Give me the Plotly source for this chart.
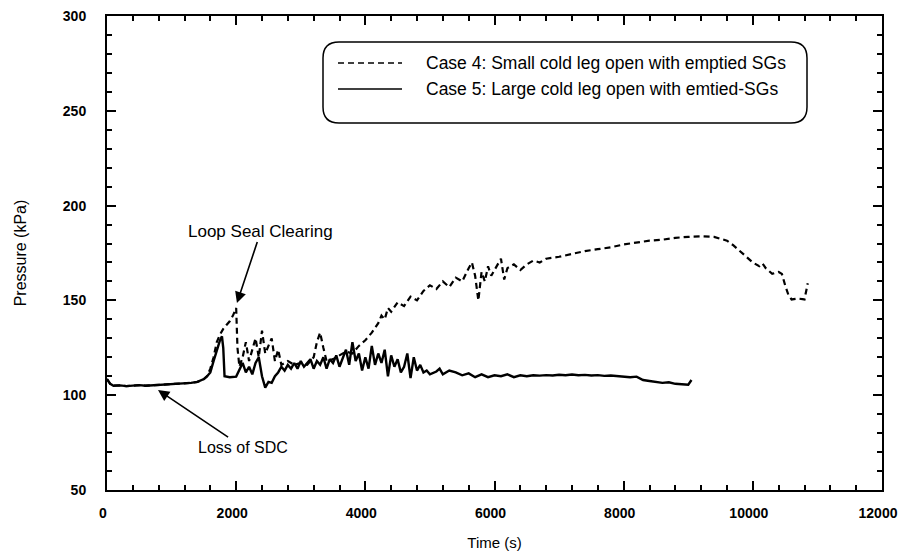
import plotly.graph_objects as go

# ---- data ----
t_case5 = [0, 50, 100, 200, 300, 400, 500, 600, 700, 800, 900, 1000, 1100, 1200, 1300, 1400,
           1500, 1550, 1600, 1650, 1700, 1750, 1780, 1800, 1820, 1900, 2000, 2050, 2100, 2150,
           2200, 2250, 2300, 2350, 2400, 2450, 2500, 2550, 2600, 2650, 2700, 2750, 2800, 2850,
           2900, 2950, 3000, 3050, 3100, 3150, 3200, 3250, 3300, 3350, 3400, 3450, 3500, 3550,
           3600, 3650, 3700, 3750, 3800, 3850, 3900, 3950, 4000, 4050, 4100, 4150, 4200, 4250,
           4300, 4350, 4400, 4450, 4500, 4550, 4600, 4650, 4700, 4750, 4800, 4850, 4900, 4950,
           5000, 5100, 5150, 5200, 5300, 5400, 5500, 5600, 5700, 5800, 5900, 6000, 6100, 6200,
           6300, 6400, 6500, 6600, 6700, 6800, 6900, 7000, 7100, 7200, 7300, 7400, 7500, 7600,
           7700, 7800, 7900, 8000, 8100, 8200, 8300, 8400, 8500, 8600, 8700, 8800, 8900, 9000, 9050]
p_case5 = [108.5, 106, 105, 105.2, 104.8, 105, 105.3, 105, 105.2, 105.1, 105.3, 105.5, 106, 106.3, 106.5, 107,
           108.5, 110, 112, 118, 124, 129, 131, 125, 110, 109.5, 109.8, 113, 117, 112,
           115, 111, 117, 120, 110, 104, 107, 106.5, 110, 112, 115, 113, 116, 114,
           117, 114, 118, 115, 117, 119, 114, 118, 116, 120, 114, 119, 117, 121,
           115, 119, 124, 116, 128, 118, 122, 113, 120, 114, 126, 116, 122, 117,
           124, 110, 121, 115, 119, 112, 115, 122, 109, 120, 113, 116, 112, 113,
           111, 112.5, 114, 111, 113, 112, 110.5, 111.5, 109.5, 111, 109.5, 110.5, 110, 111,
           109.5, 110.5, 110, 110.5, 110.3, 110.6, 110.4, 110.8, 110.5, 110.9, 110.5, 110.7, 110.4, 110.6,
           110.2, 110.4, 110, 109.8, 109.5, 109.8, 108, 107.5, 107, 106.5, 106.8, 106, 105.8, 105.5, 108]

t_case4 = [0, 50, 100, 200, 300, 400, 500, 600, 700, 800, 900, 1000, 1100, 1200, 1300, 1400,
           1500, 1550, 1600, 1650, 1700, 1750, 1800, 1850, 1900, 1950, 2000, 2020, 2050, 2100,
           2150, 2200, 2250, 2300, 2350, 2400, 2450, 2500, 2550, 2600, 2650, 2700, 2750, 2800,
           2900, 3000, 3100, 3200, 3250, 3300, 3350, 3400, 3500, 3600, 3700, 3800, 3900, 4000,
           4100, 4200, 4250, 4300, 4350, 4400, 4500, 4600, 4700, 4800, 4900, 5000, 5100, 5200,
           5300, 5400, 5500, 5600, 5650, 5700, 5750, 5800, 5850, 5900, 5950, 6000, 6100, 6150,
           6200, 6300, 6400, 6500, 6600, 6700, 6800, 7000, 7200, 7400, 7600, 7800, 8000, 8200,
           8400, 8600, 8800, 9000, 9200, 9400, 9500, 9600, 9700, 9800, 9900, 10000, 10100, 10150,
           10200, 10300, 10400, 10450, 10500, 10550, 10600, 10700, 10800, 10850]
p_case4 = [108.5, 106, 105, 105.2, 104.8, 105, 105.3, 105, 105.2, 105.1, 105.3, 105.5, 106, 106.3, 106.5, 107,
           108.5, 110, 114, 120, 128, 132, 135, 137, 139, 142, 146, 125, 115, 120,
           128, 118, 124, 130, 120, 134, 122, 126, 130, 118, 124, 116, 117, 118,
           116, 117, 116, 120, 128, 133, 125, 118, 119, 121, 123, 122, 126, 129,
           133, 138, 142, 140, 146, 144, 149, 147, 152, 150, 155, 158, 156, 160,
           157, 162, 160, 167, 170, 163, 150, 165, 160, 168, 163, 166, 172, 161,
           167, 169, 166, 169, 171, 170, 172, 173, 174.5, 176, 177, 178, 179.5, 180.5,
           181.5, 182, 183, 183.5, 183.8, 183.5, 182.5, 181.5, 179, 176, 173, 170, 168, 169.5,
           167, 164, 165, 164, 158, 153, 150.5, 151, 150.5, 159]

name4 = "Case 4: Small cold leg open with emptied SGs"
name5 = "Case 5: Large cold leg open with emtied-SGs"

x_ticks = [0, 2000, 4000, 6000, 8000, 10000, 12000]
y_ticks = [50, 100, 150, 200, 250, 300]

FONT = "Liberation Sans, Arial, sans-serif"

fig = go.Figure()
fig.add_trace(go.Scatter(x=t_case4, y=p_case4, mode="lines", name=name4,
                         line=dict(color="black", width=2.2, dash="6px,4px"), showlegend=False))
fig.add_trace(go.Scatter(x=t_case5, y=p_case5, mode="lines", name=name5,
                         line=dict(color="black", width=2.4), showlegend=False))

axis_common = dict(showgrid=False, zeroline=False, showline=True, linecolor="black", linewidth=2,
                   mirror="allticks", ticks="inside", ticklen=9, tickwidth=1.5, tickcolor="black",
                   ticklabeloverflow="allow", automargin=False,
                   tickfont=dict(family=FONT, size=14, color="black", weight="bold"))

fig.update_xaxes(range=[0, 12000], tickvals=x_ticks, ticktext=[str(v) for v in x_ticks],
                 ticklabelstandoff=9, ticklabelshift=-4,
                 minor=dict(dtick=400, ticks="inside", ticklen=5, tickwidth=1.5, tickcolor="black"),
                 title=dict(text="Time (s)", font=dict(family=FONT, size=15, color="black"), standoff=18),
                 **axis_common)
fig.update_yaxes(range=[50, 300], tickvals=y_ticks, ticktext=[str(v) for v in y_ticks],
                 ticklabelstandoff=16,
                 minor=dict(dtick=10, ticks="inside", ticklen=5, tickwidth=1.5, tickcolor="black"),
                 title=dict(text="Pressure (kPa)", font=dict(family=FONT, size=16, color="black"), standoff=32),
                 **axis_common)

# legend box (rounded rectangle) and entries, drawn in paper coordinates
def px2x(px):
    return (px - 107) / 775.0

def py2y(py):
    return (490 - py) / 474.0

bx0, bx1, by0, by1 = px2x(323), px2x(807), py2y(123), py2y(42)
rx, ry = 16 / 775.0, 16 / 474.0
path = (f"M{bx0+rx},{by1} L{bx1-rx},{by1} Q{bx1},{by1} {bx1},{by1-ry} "
        f"L{bx1},{by0+ry} Q{bx1},{by0} {bx1-rx},{by0} L{bx0+rx},{by0} "
        f"Q{bx0},{by0} {bx0},{by0+ry} L{bx0},{by1-ry} Q{bx0},{by1} {bx0+rx},{by1} Z")
shapes = [dict(type="path", xref="paper", yref="paper", path=path,
               line=dict(color="black", width=1.5), fillcolor="white", layer="below")]
entries = [(name4, "6px,4px", 63), (name5, "solid", 89)]
annotations = []
for label, dash, ypx in entries:
    shapes.append(dict(type="line", xref="paper", yref="paper", x0=px2x(338), x1=px2x(402),
                       y0=py2y(ypx), y1=py2y(ypx), line=dict(color="black", width=1.5, dash=dash)))
    annotations.append(dict(xref="paper", yref="paper", x=px2x(424), y=py2y(ypx), text=label,
                            showarrow=False, xanchor="left", yanchor="middle",
                            font=dict(family=FONT, size=17.5, color="black")))

# callouts
annotations.append(dict(x=2012, y=148.6, xref="x", yref="y", text="Loop Seal Clearing",
                        showarrow=True, arrowhead=2, arrowsize=1.4, arrowwidth=1.6, arrowcolor="black",
                        ax=24, ay=-72, font=dict(family=FONT, size=17, color="black")))
annotations.append(dict(x=790, y=102.7, xref="x", yref="y", text="Loss of SDC",
                        showarrow=True, arrowhead=2, arrowsize=1.4, arrowwidth=1.6, arrowcolor="black",
                        ax=85, ay=57, font=dict(family=FONT, size=16, color="black")))

fig.update_layout(width=899, height=559, margin=dict(l=107, r=17, t=16, b=69),
                  paper_bgcolor="white", plot_bgcolor="white",
                  shapes=shapes, annotations=annotations, showlegend=False)

fig.write_html("out.html")
